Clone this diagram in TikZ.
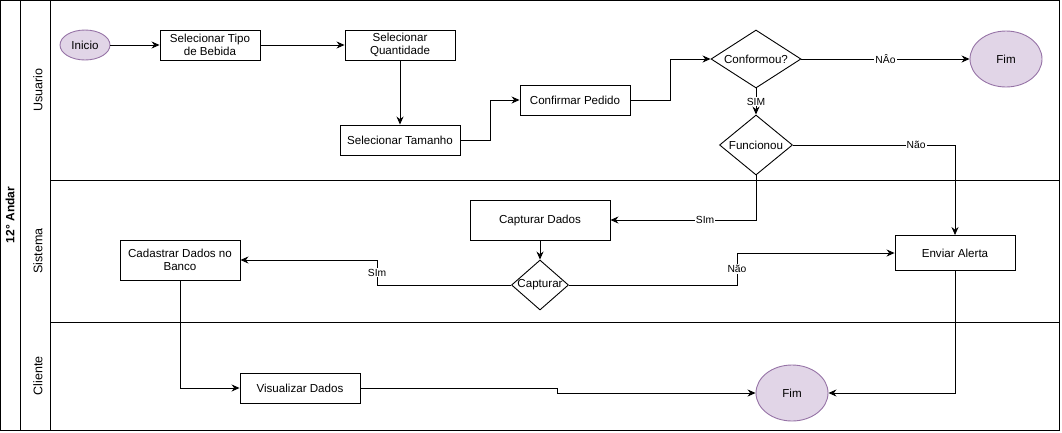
\documentclass[tikz,border=0pt]{standalone}
\usepackage{fontspec}
\setmainfont{Liberation Sans}
\usetikzlibrary{arrows.meta,shapes.geometric}

\definecolor{fimfill}{HTML}{E1D5E7}
\definecolor{fimdraw}{HTML}{9673A6}

\begin{document}
\begin{tikzpicture}[x=1pt,y=-1pt,line width=0.9pt,
  every node/.style={font=\fontsize{11.6}{13.5}\selectfont},
  proc/.style={draw,rectangle,inner sep=0pt,align=center},
  decis/.style={draw,diamond,inner sep=0pt},
  term/.style={draw=fimdraw,fill=fimfill,ellipse,inner sep=0pt},
  lbl/.style={fill=white,inner sep=1pt,font=\fontsize{10.3}{12}\selectfont},
  flow/.style={-{Stealth[length=8pt,width=7pt]}}]
\useasboundingbox (0,0) rectangle (1062,432);

% Pool and lanes
\draw (0,0) rectangle (1059,430);
\draw (20,0) -- (20,430);
\draw (50,0) -- (50,430);
\draw (50,180) -- (1059,180);
\draw (50,322) -- (1059,322);
\node[rotate=90,font=\fontsize{12}{14}\selectfont\bfseries] (pool) at (10,215) {12° Andar};
\node[rotate=90,font=\fontsize{12.5}{14}\selectfont] (usu) at (38,90) {Usuario};
\node[rotate=90,font=\fontsize{12.5}{14}\selectfont] (sis) at (38,251) {Sistema};
\node[rotate=90,font=\fontsize{12.5}{14}\selectfont] (cli) at (38,376) {Cliente};

% Usuario nodes
\node[term,minimum width=50pt,minimum height=30pt] (ini) at (85,45) {Inicio};
\node[proc,minimum width=100pt,minimum height=30pt] (tipo) at (210,45) {Selecionar Tipo\\de Bebida};
\node[proc,minimum width=110pt,minimum height=30pt] (quant) at (400,45) {Selecionar\\Quantidade};
\node[proc,minimum width=120pt,minimum height=30pt] (taman) at (400,140) {Selecionar Tamanho};
\node[proc,minimum width=110pt,minimum height=30pt] (confp) at (575,100) {Confirmar Pedido};
\node[decis,minimum width=90pt,minimum height=58pt,label={center:Conformou?}] (conf) at (756,59) {};
\node[term,minimum width=72pt,minimum height=56pt] (fimA) at (1006,59) {Fim};
\node[decis,minimum width=73pt,minimum height=60pt,label={center:Funcionou}] (func) at (756,145) {};

% Sistema nodes
\node[proc,minimum width=140pt,minimum height=40pt] (capd) at (540,220) {Capturar Dados};
\node[decis,minimum width=57pt,minimum height=50pt,label={center:Capturar}] (capt) at (540,285) {};
\node[proc,minimum width=120pt,minimum height=40pt] (cad) at (180,260) {Cadastrar Dados no\\Banco};
\node[proc,minimum width=120pt,minimum height=35pt] (alerta) at (955,253) {Enviar Alerta};

% Cliente nodes
\node[proc,minimum width=120pt,minimum height=30pt] (vis) at (300,388) {Visualizar Dados};
\node[term,minimum width=72pt,minimum height=56pt] (fimB) at (792,393) {Fim};

% Connectors
\draw[flow] (ini) -- (tipo);
\draw[flow] (tipo) -- (quant);
\draw[flow] (quant) -- (taman);
\draw[flow] (taman.east) -- ++(30,0) |- (confp.west);
\draw[flow] (confp.east) -- ++(40,0) |- (conf.west);
\draw[flow] (conf.east) -- node[lbl]{NÂo} (fimA.west);
\draw[flow] (conf.south) -- node[lbl]{SIM} (func.north);
\draw[flow] (func.east) -| node[lbl,pos=0.38]{Não} (alerta.north);
\draw[flow] (func.south) |- node[lbl,pos=0.675]{SIm} (capd.east);
\draw[flow] (capd) -- (capt);
\draw[flow] (capt.west) -- ++(-134,0) |- node[lbl,pos=0.25]{SIm} (cad.east);
\draw[flow] (capt.east) -- ++(168,0) |- node[lbl,pos=0.25]{Não} (alerta.west);
\draw[flow] (cad.south) |- (vis.west);
\draw[flow] (vis.east) -- ++(197,0) |- (fimB.west);
\draw[flow] (alerta.south) |- (fimB.east);
\end{tikzpicture}
\end{document}
